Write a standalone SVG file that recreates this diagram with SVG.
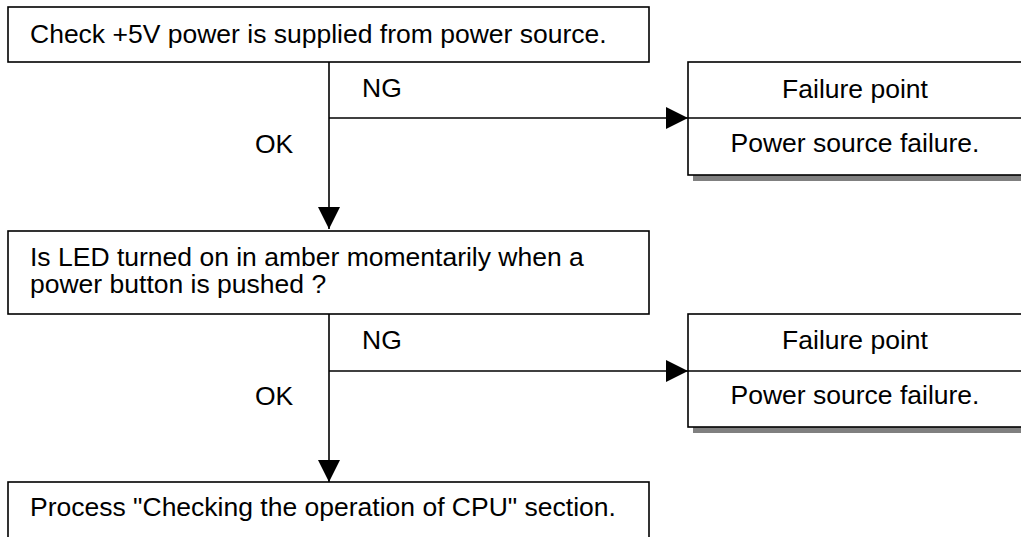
<svg xmlns="http://www.w3.org/2000/svg" width="1021" height="537" viewBox="0 0 1021 537">
<defs>
<marker id="arr" markerUnits="userSpaceOnUse" markerWidth="22" markerHeight="22" viewBox="0 0 20 20" refX="20" refY="10" orient="auto">
<path d="M0,0 L20,10 L0,20 Z" fill="#000"/>
</marker>
</defs>
<style>
text{font-family:"Liberation Sans",Arial,sans-serif;font-size:26.5px;fill:#000}
.box{fill:#fff;stroke:#000;stroke-width:1.6}
.shadow{fill:#808080}
.line{fill:none;stroke:#000;stroke-width:1.6}
.c{text-anchor:middle}
</style>
<rect width="1021" height="537" fill="#fff"/>
<g id="connectors">
<line class="line" x1="329" y1="62" x2="329" y2="229" marker-end="url(#arr)"/>
<line class="line" x1="329" y1="118" x2="688" y2="118" marker-end="url(#arr)"/>
<line class="line" x1="329" y1="314" x2="329" y2="482" marker-end="url(#arr)"/>
<line class="line" x1="329" y1="371" x2="688" y2="371" marker-end="url(#arr)"/>
<text x="362" y="97">NG</text>
<text x="255" y="153">OK</text>
<text x="362" y="349">NG</text>
<text x="255" y="405">OK</text>
</g>
<g id="step1">
<rect class="box" x="8" y="7" width="641" height="55"/>
<text x="30" y="43">Check +5V power is supplied from power source.</text>
</g>
<g id="fail1">
<rect class="shadow" x="693" y="67" width="340" height="114"/>
<rect class="box" x="688" y="62" width="340" height="113"/>
<line class="line" x1="688" y1="118" x2="1028" y2="118"/>
<text class="c" x="855" y="98">Failure point</text>
<text class="c" x="855" y="152">Power source failure.</text>
</g>
<g id="step2">
<rect class="box" x="8" y="231" width="641" height="83"/>
<text x="30" y="266">Is LED turned on in amber momentarily when a</text>
<text x="30" y="293">power button is pushed ?</text>
</g>
<g id="fail2">
<rect class="shadow" x="693" y="319" width="340" height="114"/>
<rect class="box" x="688" y="314" width="340" height="113"/>
<line class="line" x1="688" y1="371" x2="1028" y2="371"/>
<text class="c" x="855" y="349">Failure point</text>
<text class="c" x="855" y="404">Power source failure.</text>
</g>
<g id="step3">
<rect class="box" x="8" y="482" width="641" height="80"/>
<text x="30" y="516">Process "Checking the operation of CPU" section.</text>
</g>
</svg>
